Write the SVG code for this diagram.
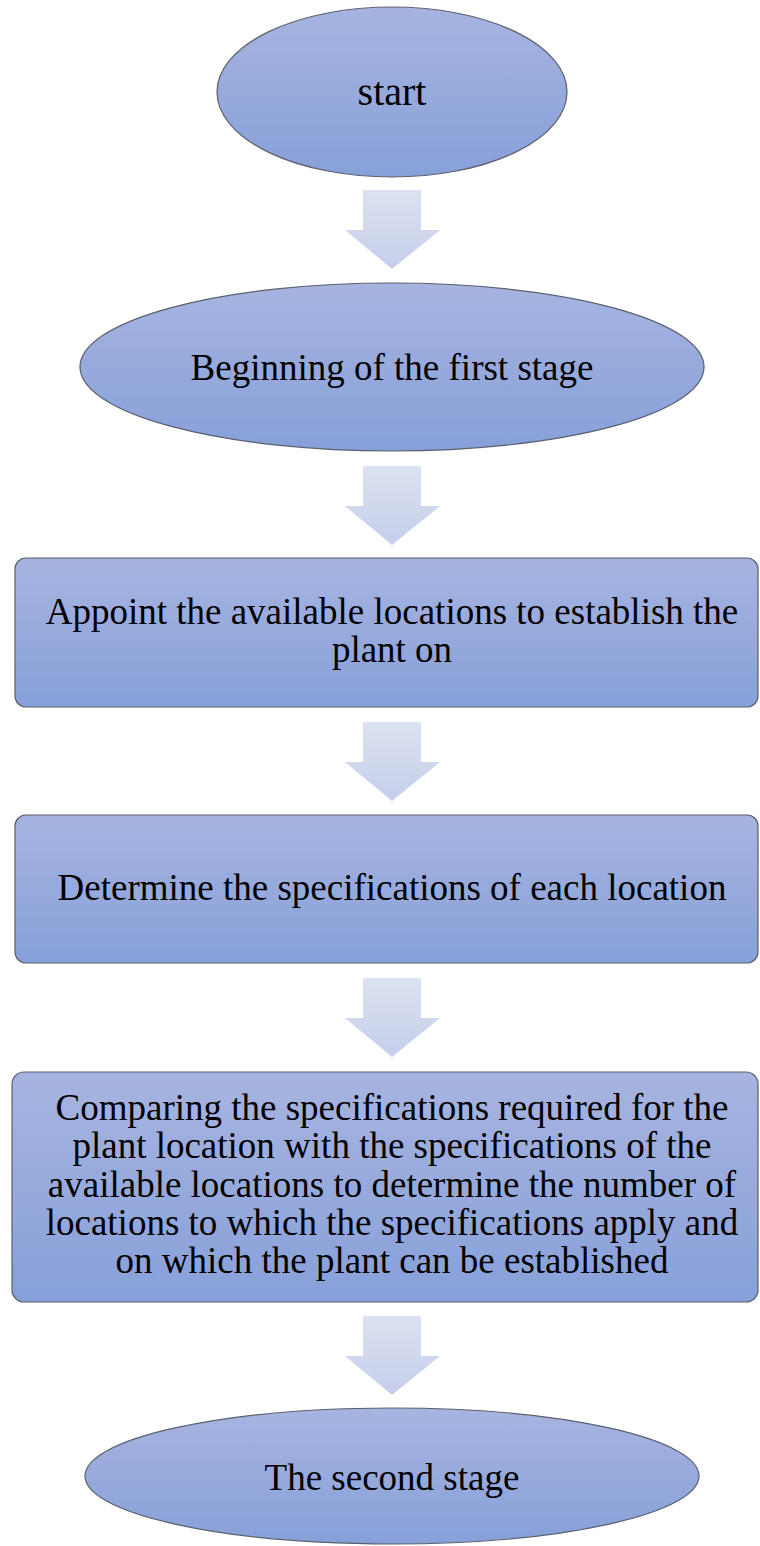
<svg xmlns="http://www.w3.org/2000/svg" width="760" height="1546" viewBox="0 0 760 1546">
<defs>
<linearGradient id="nodeFill" x1="0" y1="0" x2="0" y2="1">
<stop offset="0" stop-color="#A7B4E0"/>
<stop offset="1" stop-color="#87A0D9"/>
</linearGradient>
<linearGradient id="arrowFill" x1="0" y1="0" x2="0" y2="1">
<stop offset="0" stop-color="#DDE2F2"/>
<stop offset="1" stop-color="#C5CEEA"/>
</linearGradient>
</defs>
<style>
.node{fill:url(#nodeFill);stroke:#5A5F6E;stroke-width:1.2}
.arrow{fill:url(#arrowFill);stroke:none}
.lbl{font-family:"Liberation Serif","Times New Roman",serif;font-size:37px;fill:#000;text-anchor:middle}
</style>
<g id="connectors">
<path class="arrow" d="M363,190 H421 V230 H440 L392,269 L345,230 H363 Z"/>
<path class="arrow" d="M363,466 H421 V506 H440 L392,545 L345,506 H363 Z"/>
<path class="arrow" d="M363,722 H421 V762 H440 L392,801 L345,762 H363 Z"/>
<path class="arrow" d="M363,978 H421 V1018 H440 L392,1057 L345,1018 H363 Z"/>
<path class="arrow" d="M363,1316 H421 V1356 H440 L392,1395 L345,1356 H363 Z"/>
</g>
<g id="start">
<ellipse class="node" cx="392" cy="92" rx="175" ry="85"/>
<text class="lbl" x="392" y="105" style="font-size:40px">start</text>
</g>
<g id="stage1">
<ellipse class="node" cx="392" cy="367" rx="312" ry="84"/>
<text class="lbl" x="392" y="380">Beginning of the first stage</text>
</g>
<g id="appoint">
<rect class="node" x="15" y="558" width="743" height="149" rx="11"/>
<text class="lbl" x="392" y="624">Appoint the available locations to establish the</text>
<text class="lbl" x="392" y="662">plant on</text>
</g>
<g id="determine">
<rect class="node" x="15" y="815" width="743" height="148" rx="11"/>
<text class="lbl" x="392" y="900">Determine the specifications of each location</text>
</g>
<g id="compare">
<rect class="node" x="12" y="1072" width="746" height="230" rx="12"/>
<text class="lbl" x="392" y="1120">Comparing the specifications required for the</text>
<text class="lbl" x="392" y="1158">plant location with the specifications of the</text>
<text class="lbl" x="392" y="1197">available locations to determine the number of</text>
<text class="lbl" x="392" y="1235">locations to which the specifications apply and</text>
<text class="lbl" x="392" y="1273">on which the plant can be established</text>
</g>
<g id="stage2">
<ellipse class="node" cx="392" cy="1476" rx="307" ry="68"/>
<text class="lbl" x="392" y="1490">The second stage</text>
</g>
</svg>
